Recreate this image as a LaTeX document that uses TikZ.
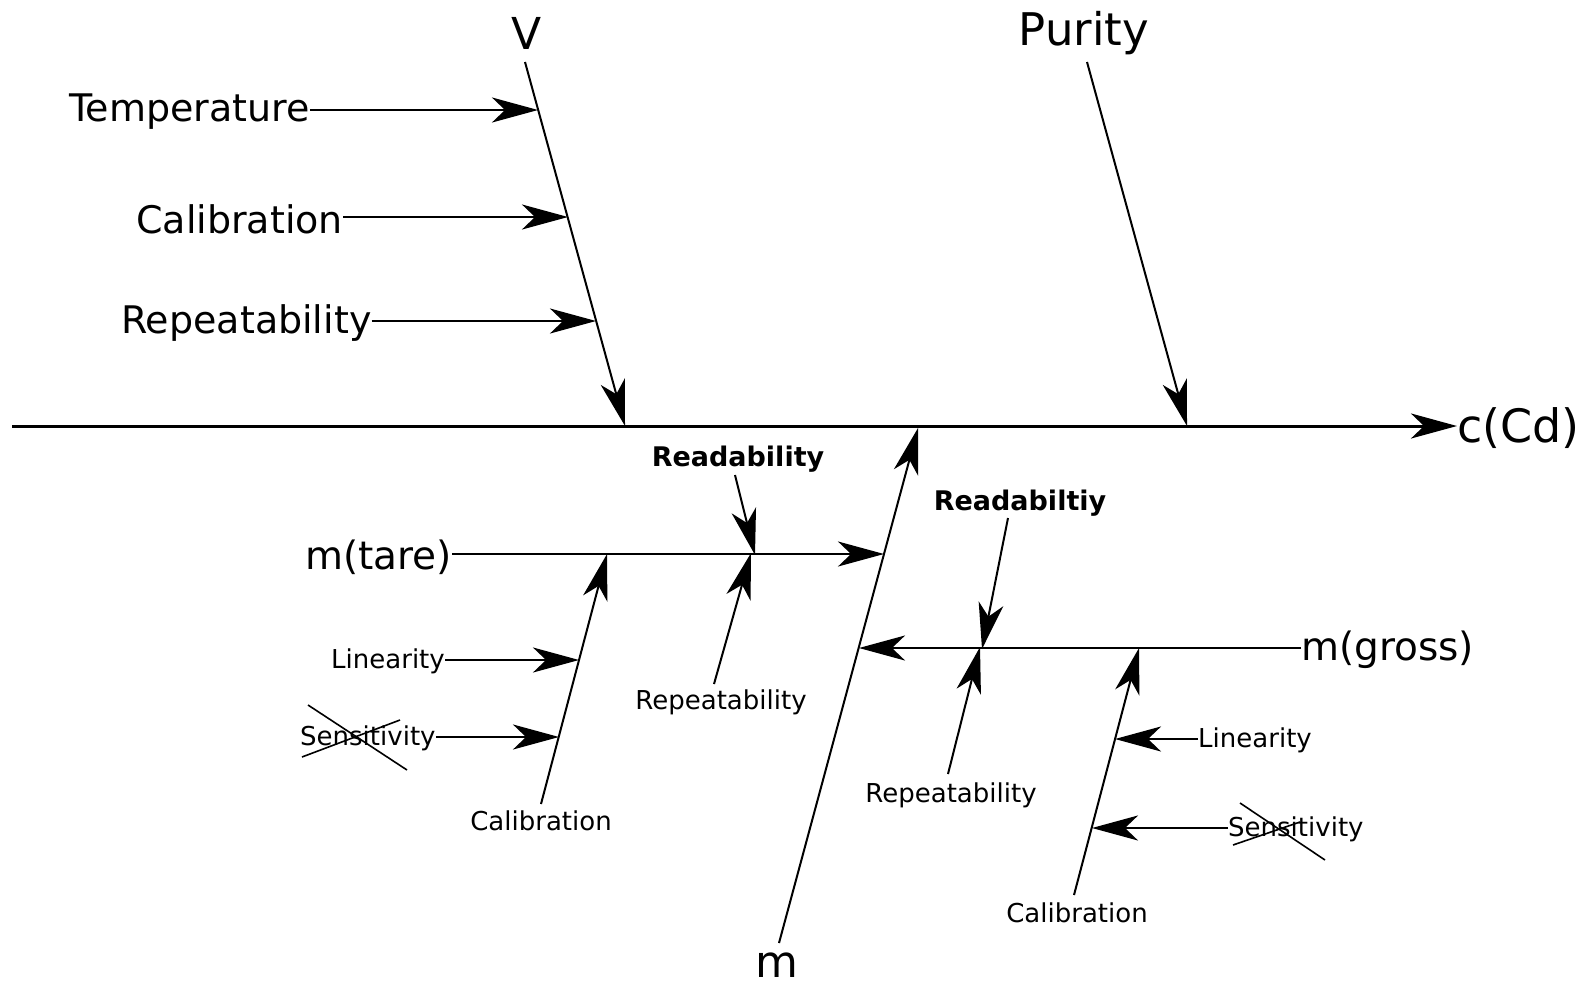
\documentclass[tikz,border=0pt]{standalone}
\usepackage{fontspec}
\setmainfont{DejaVu Sans}
\usetikzlibrary{arrows.meta}
\begin{document}
\begin{tikzpicture}[x=1pt,y=-1pt,
  >={Stealth[length=46pt,width=25pt,inset=13pt]},
  big/.style={inner sep=0pt,font=\fontsize{44}{50}\selectfont},
  mid/.style={inner sep=0pt,font=\fontsize{38}{44}\selectfont},
  sml/.style={inner sep=0pt,font=\fontsize{26}{30}\selectfont},
  bld/.style={inner sep=0pt,font=\fontsize{27}{30}\selectfont\bfseries},
  spine/.style={line width=3pt},
  hbr/.style={line width=2.6pt},
  dbr/.style={line width=2pt},
  strike/.style={line width=1.6pt}]
\useasboundingbox (0,0) rectangle (1581,988);

% main spine
\coordinate (spL) at (12,426);
\node[big,anchor=west,font=\fontsize{46}{52}\selectfont] (ccd) at (1457,428) {c(Cd)};
\draw[spine,->] (spL) -- (ccd.west |- spL);

% V branch
\node[big] (V) at (527,33) {V};
\coordinate (Vs) at (525,62);
\coordinate (Ve) at (625,426);
\draw[dbr,->] (Vs) -- (Ve);
\coordinate (Vj1) at (538,110);
\coordinate (Vj2) at (568,217);
\coordinate (Vj3) at (596,321);
\node[mid,anchor=west] (temp) at (69,112) {Temperature};
\node[mid,anchor=west] (calV) at (136,219) {Calibration};
\node[mid,anchor=west] (repV) at (121,323) {Repeatability};
\draw[hbr,->] (temp.east |- Vj1) -- (Vj1);
\draw[hbr,->] (calV.east |- Vj2) -- (Vj2);
\draw[hbr,->] (repV.east |- Vj3) -- (Vj3);

% Purity branch
\node[big,font=\fontsize{45}{50}\selectfont] (pur) at (1084,33) {Purity};
\coordinate (Ps) at (1087,62);
\coordinate (Pe) at (1187,426);
\draw[dbr,->] (Ps) -- (Pe);

% m branch
\node[big] (m) at (777,965) {m};
\coordinate (ms) at (779,943);
\coordinate (me) at (918,428);
\draw[dbr,->] (ms) -- (me);
\coordinate (mj1) at (884,554);
\coordinate (mj2) at (859,648);

% m(tare)
\node[mid,anchor=east,font=\fontsize{39}{44}\selectfont] (mtare) at (452,557) {m(tare)};
\draw[hbr,->] (mtare.east |- mj1) -- (mj1);
\node[bld] (readT) at (738,459) {Readability};
\coordinate (rdTs) at (735,475);
\coordinate (rdTe) at (755,555);
\draw[dbr,->] (rdTs) -- (rdTe);
\node[sml] (repT) at (721,702) {Repeatability};
\coordinate (rpTs) at (714,684);
\coordinate (rpTe) at (751,553);
\draw[dbr,->] (rpTs) -- (rpTe);
\node[sml] (calT) at (541,821) {Calibration};
\coordinate (clTs) at (541,804);
\coordinate (clTe) at (607,554);
\draw[dbr,->] (clTs) -- (clTe);
\coordinate (clTj1) at (579,660);
\coordinate (clTj2) at (559,737);
\node[sml,anchor=west] (linT) at (331,661) {Linearity};
\node[sml,anchor=west] (senT) at (300,738) {Sensitivity};
\draw[hbr,->] (linT.east |- clTj1) -- (clTj1);
\draw[hbr,->] (senT.east |- clTj2) -- (clTj2);
\draw[strike] (308,705) -- (407,770);
\draw[strike] (302,757) -- (400,720);

% m(gross)
\node[mid,anchor=west,font=\fontsize{39}{44}\selectfont] (mgross) at (1301,650) {m(gross)};
\draw[hbr,->] (mgross.west |- mj2) -- (mj2);
\node[bld] (readG) at (1020,503) {Readabiltiy};
\coordinate (rdGs) at (1008,518);
\coordinate (rdGe) at (982,649);
\draw[dbr,->] (rdGs) -- (rdGe);
\node[sml] (repG) at (951,795) {Repeatability};
\coordinate (rpGs) at (948,774);
\coordinate (rpGe) at (980,647);
\draw[dbr,->] (rpGs) -- (rpGe);
\node[sml] (calG) at (1077,913) {Calibration};
\coordinate (clGs) at (1074,895);
\coordinate (clGe) at (1139,648);
\draw[dbr,->] (clGs) -- (clGe);
\coordinate (clGj1) at (1115,739);
\coordinate (clGj2) at (1092,828);
\node[sml,anchor=west] (linG) at (1198,740) {Linearity};
\node[sml,anchor=west] (senG) at (1228,829) {Sensitivity};
\draw[hbr,->] (linG.west |- clGj1) -- (clGj1);
\draw[hbr,->] (senG.west |- clGj2) -- (clGj2);
\draw[strike] (1240,803) -- (1325,860);
\draw[strike] (1233,845) -- (1300,822);
\end{tikzpicture}
\end{document}
